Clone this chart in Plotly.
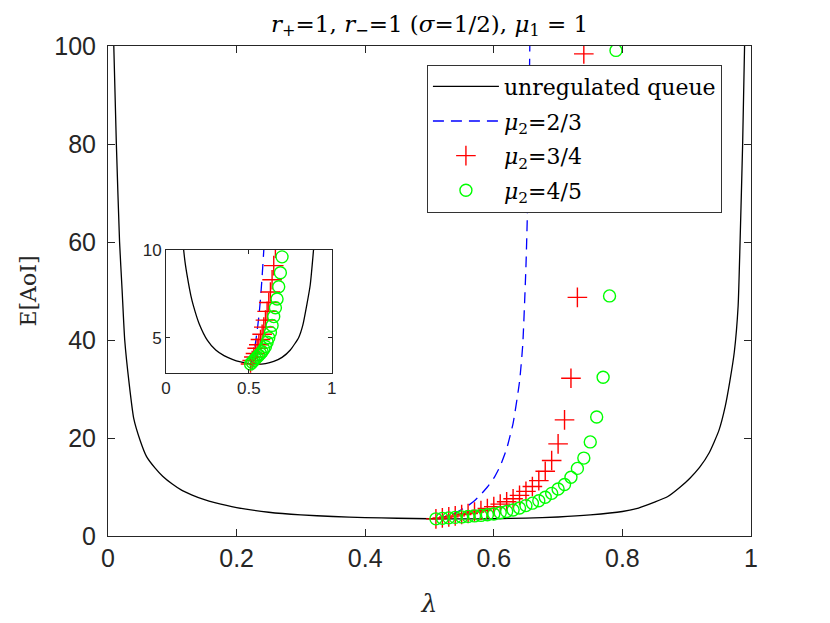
import plotly.graph_objects as go

# unregulated queue
lam_u = [0.009, 0.013, 0.018, 0.022, 0.026, 0.033, 0.04, 0.05, 0.06, 0.073, 0.085,
         0.1, 0.115, 0.13, 0.15, 0.166, 0.2, 0.25, 0.3, 0.35, 0.4, 0.45, 0.5, 0.55,
         0.6, 0.65, 0.7, 0.75, 0.8, 0.825, 0.85, 0.87, 0.89, 0.905, 0.92, 0.935,
         0.95, 0.96, 0.967, 0.974, 0.98, 0.983, 0.987, 0.99]
aoi_u = [100, 80, 60, 50, 40, 31, 24, 19.5, 16.2, 13.9, 12.2,
         10.6, 9.3, 8.4, 7.4, 6.8, 5.8, 4.85, 4.3, 3.98, 3.77, 3.62, 3.52, 3.48,
         3.52, 3.65, 3.88, 4.3, 5.0, 5.7, 6.9, 8.0, 10.0, 11.8, 14.0, 17.0,
         21.5, 26.5, 31.5, 37.5, 47, 60, 80, 100]

# mu2 = 2/3 (dashed)
lam_a = [0.51, 0.52, 0.53, 0.54, 0.55, 0.56, 0.57, 0.58, 0.59, 0.60, 0.61, 0.62,
         0.63, 0.64, 0.645, 0.65, 0.653, 0.656]
aoi_a = [3.5, 3.8, 4.2, 4.7, 5.4, 6.2, 7.2, 8.5, 10.0, 11.8, 14.3, 17.8,
         23.0, 31.5, 39, 55, 70, 100]

# mu2 = 3/4 (+)
lam_b = [0.51, 0.52, 0.53, 0.54, 0.55, 0.56, 0.57, 0.58, 0.59, 0.60, 0.61, 0.62,
         0.63, 0.64, 0.65, 0.66, 0.67, 0.68, 0.69, 0.70, 0.71, 0.72, 0.73, 0.74]
aoi_b = [3.5, 3.7, 3.9, 4.1, 4.4, 4.6, 4.9, 5.2, 5.6, 6.0, 6.5, 7.0,
         7.6, 8.3, 9.1, 10.1, 11.3, 13.2, 15.4, 18.8, 23.7, 32.2, 48.7, 98.4]

# mu2 = 4/5 (o)
lam_c = [0.51, 0.52, 0.53, 0.54, 0.55, 0.56, 0.57, 0.58, 0.59, 0.60, 0.61, 0.62,
         0.63, 0.64, 0.65, 0.66, 0.67, 0.68, 0.69, 0.70, 0.71, 0.72, 0.73, 0.74,
         0.75, 0.76, 0.77, 0.78, 0.79]
aoi_c = [3.5, 3.6, 3.7, 3.8, 3.9, 4.0, 4.1, 4.2, 4.35, 4.5, 4.75, 5.0,
         5.3, 5.7, 6.2, 6.7, 7.2, 7.9, 8.7, 9.6, 10.5, 12.0, 13.8, 15.9,
         19.2, 24.3, 32.4, 49.0, 99.1]

names = ["unregulated queue", "<i>μ</i><sub>2</sub>=2/3",
         "<i>μ</i><sub>2</sub>=3/4", "<i>μ</i><sub>2</sub>=4/5"]

fig = go.Figure()

for ax, show in [("", True), ("2", False)]:
    xa, ya = "x" + ax, "y" + ax
    fig.add_trace(go.Scatter(x=lam_u, y=aoi_u, mode="lines", name=names[0],
                             line=dict(color="black", width=1.3, shape="spline", smoothing=0.5),
                             xaxis=xa, yaxis=ya, showlegend=show, legendgroup="a"))
    fig.add_trace(go.Scatter(x=lam_a, y=aoi_a, mode="lines", name=names[1],
                             line=dict(color="#0000ff", width=1.3, dash="11px,7px",
                                       shape="spline", smoothing=0.5),
                             xaxis=xa, yaxis=ya, showlegend=show, legendgroup="b"))
    fig.add_trace(go.Scatter(x=lam_b, y=aoi_b, mode="markers", name=names[2],
                             marker=dict(symbol="cross-thin", size=14, color="#ff0000",
                                         line=dict(color="#ff0000", width=1.4)),
                             xaxis=xa, yaxis=ya, showlegend=show, legendgroup="c"))
    fig.add_trace(go.Scatter(x=lam_c, y=aoi_c, mode="markers", name=names[3],
                             marker=dict(symbol="circle-open", size=12, color="#00ff00",
                                         line=dict(color="#00ff00", width=1.4)),
                             xaxis=xa, yaxis=ya, showlegend=show, legendgroup="d"))

axcol = "#262626"
tickfont = dict(family="Liberation Sans, Arial", size=25, color=axcol)
smallfont = dict(family="Liberation Sans, Arial", size=17, color=axcol)
serif = "DejaVu Serif, serif"

# page body adds 8px on the left/top, margins compensate for it
fig.update_layout(
    width=830, height=623,
    margin=dict(l=100, r=87, t=38, b=95, autoexpand=False),
    paper_bgcolor="white", plot_bgcolor="white",
    title=dict(text="<i>r</i><sub>+</sub>=1, <i>r</i><sub>−</sub>=1 (<i>σ</i>=1/2), <i>μ</i><sub>1</sub> = 1",
               x=0.508, xanchor="center", y=0.975, yanchor="middle", yref="container",
               font=dict(family=serif, size=23, color="black")),
    xaxis=dict(range=[0, 1], tickvals=[0, 0.2, 0.4, 0.6, 0.8, 1],
               ticktext=["0", "0.2", "0.4", "0.6", "0.8", "1"], automargin=False,
               ticks="inside", ticklen=7, tickcolor=axcol, showline=True, linecolor=axcol,
               linewidth=1, mirror="ticks", showgrid=False, zeroline=False, tickfont=tickfont,
               title=dict(text="<i>λ</i>", standoff=23,
                          font=dict(family=serif, size=25, color=axcol))),
    yaxis=dict(range=[0, 100], tickvals=[0, 20, 40, 60, 80, 100], automargin=False,
               ticks="inside", ticklen=7, tickcolor=axcol, showline=True, linecolor=axcol,
               linewidth=1, mirror="ticks", showgrid=False, zeroline=False, tickfont=tickfont,
               ticklabelstandoff=6,
               title=dict(text="E[AoI]", standoff=11,
                          font=dict(family=serif, size=22, color=axcol))),
    xaxis2=dict(domain=[0.0902, 0.348], anchor="y2", range=[0, 1], tickvals=[0, 0.5, 1],
                ticktext=["0", "0.5", "1"], ticks="inside", ticklen=4, tickcolor=axcol,
                showline=True, linecolor=axcol, linewidth=1, mirror="ticks", showgrid=False,
                zeroline=False, tickfont=smallfont, automargin=False),
    yaxis2=dict(domain=[0.333, 0.584], anchor="x2", range=[3, 10], tickvals=[5, 10],
                ticks="inside", ticklen=4, tickcolor=axcol, automargin=False,
                showline=True, linecolor=axcol, linewidth=1, mirror="ticks", showgrid=False,
                zeroline=False, tickfont=smallfont),
    legend=dict(x=0.496, y=0.962, xanchor="left", yanchor="top",
                bgcolor="white", bordercolor="#333333", borderwidth=1,
                font=dict(family=serif, size=22, color="black"),
                tracegroupgap=3, traceorder="grouped", itemwidth=66),
)

fig.write_html("out.html")
